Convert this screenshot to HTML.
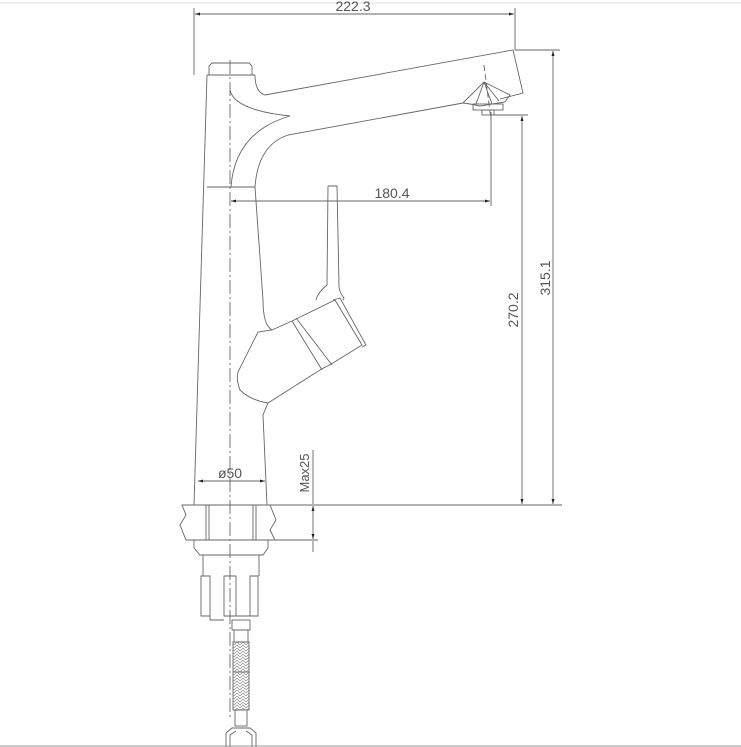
<!DOCTYPE html>
<html><head><meta charset="utf-8"><style>
html,body{margin:0;padding:0;background:#fff;}
svg{display:block}
text{font-family:"Liberation Sans",sans-serif;fill:#555;}
</style></head><body>
<svg width="741" height="747" viewBox="0 0 741 747" xmlns="http://www.w3.org/2000/svg">
<defs>
<marker id="a" viewBox="0 0 10 10" refX="10" refY="5" markerWidth="11" markerHeight="5" orient="auto-start-reverse" markerUnits="userSpaceOnUse"><path d="M0,2 L10,5 L0,8 z" fill="#222"/></marker>
<pattern id="br" width="6" height="6" patternUnits="userSpaceOnUse"><path d="M0,3 L3,0 L6,3 M0,6 L3,3 L6,6" stroke="#888" stroke-width="0.7" fill="none"/></pattern>
</defs>
<line x1="0" y1="3" x2="741" y2="3" stroke="#ddd"/>
<g stroke="#666" stroke-width="0.9" fill="none">
<line x1="194" y1="8" x2="194" y2="75"/>
<line x1="515" y1="8" x2="515" y2="50"/>
<line x1="195" y1="14" x2="514" y2="14" marker-start="url(#a)" marker-end="url(#a)"/>
<line x1="230" y1="60" x2="230" y2="720" stroke-dasharray="14,3,2,3"/>
<path d="M209,75 L209,66 L212,63 L249,63 L252,66 L252,75"/>
<path d="M207,75 L255,75"/>
<path d="M207,75 L194,505"/>
<path d="M255,75 Q255,92 265,95 L513,50 L523,93 L500,99"/>
<path d="M463,103 L288,135 Q258,145 255,187 L263,300 Q263,325 272,330"/>
<path d="M230,90 Q234,110 290,116"/>
<path d="M290,116 Q235,132 231,187"/>
<line x1="207" y1="187" x2="255" y2="187"/>
<path d="M463,103 L484,82 L500,90 L510,95 L505,102 L480,106 L470,104 Z"/>
<path d="M484,82 L476,104 M484,82 L492,104 M484,82 L499,101"/>
<rect x="473" y="104" width="30" height="6"/>
<rect x="482" y="110" width="12" height="5"/>
<line x1="484" y1="65" x2="491" y2="120" stroke-dasharray="6,3"/>
<line x1="491" y1="112" x2="491" y2="206"/>
<line x1="231" y1="201" x2="490" y2="201" marker-start="url(#a)" marker-end="url(#a)"/>
<path d="M328,186 L337,186 L339,286 Q339,292 344,298 L343,300"/>
<path d="M328,186 L327,285 Q318,292 316,300"/>
<path d="M272,330 L292,321 L335,300 L362,345 L333,363 L320,370 L268,403 Q250,400 240,390 Q236,380 238,372 L258,332 Z"/>
<path d="M292,321 L322,370"/>
<path d="M296,318 L332,365"/>
<path d="M333,300 L340,298 L366,345 L362,347"/>
<path d="M268,403 L263,415 L267,505"/>
<line x1="198" y1="481" x2="265" y2="481" marker-start="url(#a)" marker-end="url(#a)"/>
<line x1="194" y1="505" x2="562" y2="505"/>
<line x1="270" y1="540" x2="318" y2="540"/>
<line x1="515" y1="50" x2="560" y2="50"/>
<line x1="492" y1="115" x2="528" y2="115"/>
<line x1="553" y1="51" x2="553" y2="504" marker-start="url(#a)" marker-end="url(#a)"/>
<line x1="522" y1="116" x2="522" y2="504" marker-start="url(#a)" marker-end="url(#a)"/>
<line x1="313" y1="450" x2="313" y2="504"/>
<line x1="313" y1="541" x2="313" y2="552"/>
<line x1="313" y1="520" x2="313" y2="539" marker-end="url(#a)"/>
<line x1="313" y1="520" x2="313" y2="506" marker-end="url(#a)"/>
<path d="M182,505 L186,515 L180,525 L186,540 L275,540 L270,530 L276,520 L270,505 Z"/>
<line x1="206" y1="505" x2="206" y2="540"/><line x1="209" y1="505" x2="209" y2="540"/>
<line x1="253" y1="505" x2="253" y2="540"/><line x1="256" y1="505" x2="256" y2="540"/>
<path d="M194,540 L194,548 L200,555 L263,555 L268,548 L268,540"/>
<path d="M203,555 L203,576 M259,555 L259,576"/>
<path d="M201,576 L201,616 L210,616 L210,576 Z"/>
<path d="M224,576 L224,616 L236,616 L236,576 Z"/>
<path d="M250,576 L250,616 L258,616 L258,576 Z"/>
<path d="M210,616 L210,620 L224,620 M236,616 L250,616"/>
<rect x="232" y="620" width="18" height="10"/>
<rect x="234" y="630" width="14" height="12"/>
<rect x="233" y="642" width="16" height="68" fill="url(#br)"/>
<line x1="233" y1="672" x2="249" y2="672"/>
<rect x="235" y="710" width="12" height="16"/>
<path d="M226,747 L226,733 L232,728 L250,728 L256,733 L256,747"/>
<path d="M230,747 L230,735 L236,731 M252,747 L252,735 L246,731"/>
</g>
<text x="230" y="478" font-size="14" text-anchor="middle">ø50</text>
<text x="392" y="198" font-size="14" text-anchor="middle">180.4</text>
<text x="353" y="11" font-size="14" text-anchor="middle">222.3</text>
<text transform="translate(518,310) rotate(-90)" font-size="14" text-anchor="middle">270.2</text>
<text transform="translate(550,278) rotate(-90)" font-size="14" text-anchor="middle">315.1</text>
<text transform="translate(309,473) rotate(-90)" font-size="13" text-anchor="middle">Max25</text>
<line x1="0" y1="746" x2="741" y2="746" stroke="#999"/>
</svg>
</body></html>
